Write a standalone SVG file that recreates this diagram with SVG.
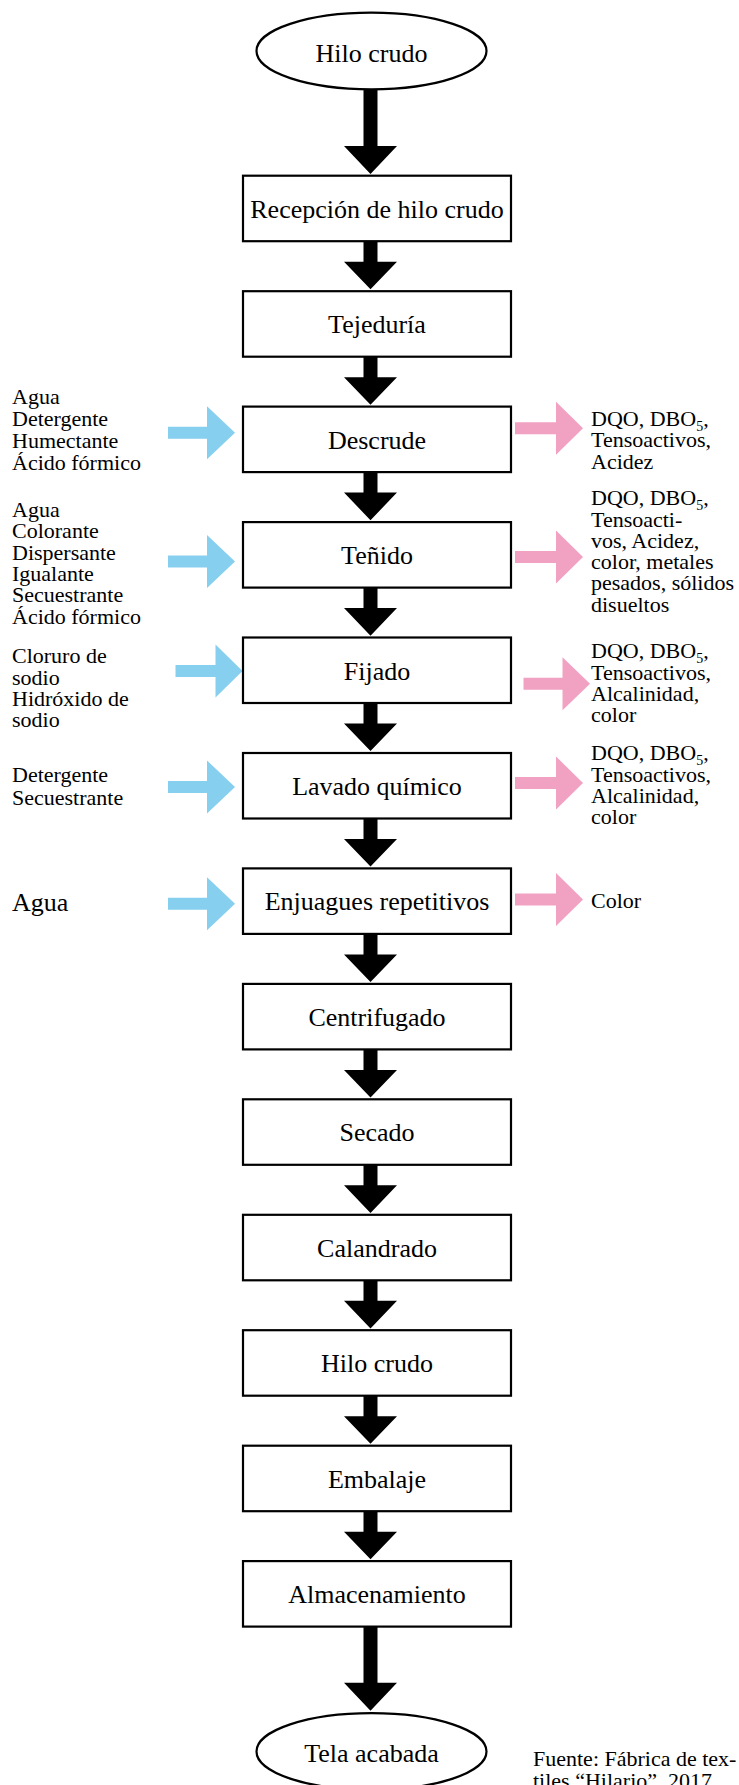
<svg xmlns="http://www.w3.org/2000/svg" width="739" height="1785" viewBox="0 0 739 1785">
<style>
  .box { fill: #ffffff; stroke: #000000; stroke-width: 2.2; }
  .ell { fill: #ffffff; stroke: #000000; stroke-width: 2.2; }
  .main { font-family: "Liberation Serif", "Times New Roman", serif; font-size: 26px; fill: #000000; text-anchor: middle; }
  .side { font-family: "Liberation Serif", "Times New Roman", serif; font-size: 22px; fill: #000000; }
  .sub { font-size: 14px; }
  .flow { fill: #000000; }
  .inp { fill: #87CFEF; }
  .out { fill: #F1A1C1; }
</style>
<rect x="0" y="0" width="739" height="1785" fill="#ffffff"/>

<g id="connectors">
  <path class="flow" d="M363.5 89 H377.5 V146 H397 L370.5 174 L344 146 H363.5 Z"/>
  <path class="flow" d="M363.5 241.2 H377.5 V261.7 H397 L370.5 289.3 L344 261.7 H363.5 Z"/>
  <path class="flow" d="M363.5 356.7 H377.5 V377.2 H397 L370.5 404.8 L344 377.2 H363.5 Z"/>
  <path class="flow" d="M363.5 472.1 H377.5 V492.6 H397 L370.5 520.2 L344 492.6 H363.5 Z"/>
  <path class="flow" d="M363.5 587.6 H377.5 V608.1 H397 L370.5 635.7 L344 608.1 H363.5 Z"/>
  <path class="flow" d="M363.5 703 H377.5 V723.5 H397 L370.5 751.1 L344 723.5 H363.5 Z"/>
  <path class="flow" d="M363.5 818.5 H377.5 V839 H397 L370.5 866.6 L344 839 H363.5 Z"/>
  <path class="flow" d="M363.5 933.9 H377.5 V954.4 H397 L370.5 982 L344 954.4 H363.5 Z"/>
  <path class="flow" d="M363.5 1049.4 H377.5 V1069.9 H397 L370.5 1097.5 L344 1069.9 H363.5 Z"/>
  <path class="flow" d="M363.5 1164.8 H377.5 V1185.3 H397 L370.5 1212.9 L344 1185.3 H363.5 Z"/>
  <path class="flow" d="M363.5 1280.3 H377.5 V1300.8 H397 L370.5 1328.4 L344 1300.8 H363.5 Z"/>
  <path class="flow" d="M363.5 1395.7 H377.5 V1416.2 H397 L370.5 1443.8 L344 1416.2 H363.5 Z"/>
  <path class="flow" d="M363.5 1511.2 H377.5 V1531.7 H397 L370.5 1559.3 L344 1531.7 H363.5 Z"/>
  <path class="flow" d="M363.5 1626.6 H377.5 V1682.7 H397 L370.5 1710.7 L344 1682.7 H363.5 Z"/>

  <!-- inputs (blue) -->
  <path class="inp" d="M168 426.7 H207 V406.2 L235 432.7 L207 459.2 V438.7 H168 Z"/>
  <path class="inp" d="M168 555.5 H207 V535 L235 561.5 L207 588 V567.5 H168 Z"/>
  <path class="inp" d="M175.5 665 H215.5 V644.5 L242.5 671 L215.5 697.5 V677 H175.5 Z"/>
  <path class="inp" d="M168 781 H207 V760.5 L235 787 L207 813.5 V793 H168 Z"/>
  <path class="inp" d="M168 897.7 H207 V877.2 L235 903.7 L207 930.2 V909.7 H168 Z"/>

  <!-- outputs (pink) -->
  <path class="out" d="M515 422.3 H556 V401.8 L583 428.3 L556 454.8 V434.3 H515 Z"/>
  <path class="out" d="M515 551 H556 V530.5 L583 557 L556 583.5 V563 H515 Z"/>
  <path class="out" d="M523.5 677.7 H562.5 V657.2 L590 683.7 L562.5 710.2 V689.7 H523.5 Z"/>
  <path class="out" d="M515 777 H556 V756.5 L583 783 L556 809.5 V789 H515 Z"/>
  <path class="out" d="M515 893.5 H556 V873 L583 899.5 L556 926 V905.5 H515 Z"/>
</g>

<g id="n-hilo-crudo-inicio">
  <ellipse class="ell" cx="371.5" cy="51" rx="115" ry="38.3"/>
  <text class="main" x="371.5" y="62">Hilo crudo</text>
</g>
<g id="n-recepcion">
  <rect class="box" x="243" y="175.7" width="268" height="65.5"/>
  <text class="main" x="377" y="217.7">Recepción de hilo crudo</text>
</g>
<g id="n-tejeduria">
  <rect class="box" x="243" y="291.2" width="268" height="65.5"/>
  <text class="main" x="377" y="333.2">Tejeduría</text>
</g>
<g id="n-descrude">
  <rect class="box" x="243" y="406.6" width="268" height="65.5"/>
  <text class="main" x="377" y="448.6">Descrude</text>
</g>
<g id="n-tenido">
  <rect class="box" x="243" y="522.1" width="268" height="65.5"/>
  <text class="main" x="377" y="564.1">Teñido</text>
</g>
<g id="n-fijado">
  <rect class="box" x="243" y="637.5" width="268" height="65.5"/>
  <text class="main" x="377" y="679.5">Fijado</text>
</g>
<g id="n-lavado">
  <rect class="box" x="243" y="753" width="268" height="65.5"/>
  <text class="main" x="377" y="795">Lavado químico</text>
</g>
<g id="n-enjuagues">
  <rect class="box" x="243" y="868.4" width="268" height="65.5"/>
  <text class="main" x="377" y="910.4">Enjuagues repetitivos</text>
</g>
<g id="n-centrifugado">
  <rect class="box" x="243" y="983.9" width="268" height="65.5"/>
  <text class="main" x="377" y="1025.9">Centrifugado</text>
</g>
<g id="n-secado">
  <rect class="box" x="243" y="1099.3" width="268" height="65.5"/>
  <text class="main" x="377" y="1141.3">Secado</text>
</g>
<g id="n-calandrado">
  <rect class="box" x="243" y="1214.8" width="268" height="65.5"/>
  <text class="main" x="377" y="1256.8">Calandrado</text>
</g>
<g id="n-hilo-crudo">
  <rect class="box" x="243" y="1330.2" width="268" height="65.5"/>
  <text class="main" x="377" y="1372.2">Hilo crudo</text>
</g>
<g id="n-embalaje">
  <rect class="box" x="243" y="1445.7" width="268" height="65.5"/>
  <text class="main" x="377" y="1487.7">Embalaje</text>
</g>
<g id="n-almacenamiento">
  <rect class="box" x="243" y="1561.1" width="268" height="65.5"/>
  <text class="main" x="377" y="1603.1">Almacenamiento</text>
</g>
<g id="n-tela-acabada">
  <ellipse class="ell" cx="371.5" cy="1751.5" rx="115" ry="38.3"/>
  <text class="main" x="371.5" y="1762">Tela acabada</text>
</g>

<g id="in-descrude">
  <text class="side"><tspan x="12" y="404">Agua</tspan><tspan x="12" y="426">Detergente</tspan><tspan x="12" y="448">Humectante</tspan><tspan x="12" y="469.5">Ácido fórmico</tspan></text>
</g>
<g id="in-tenido">
  <text class="side"><tspan x="12" y="516.7">Agua</tspan><tspan x="12" y="538.2">Colorante</tspan><tspan x="12" y="559.5">Dispersante</tspan><tspan x="12" y="580.8">Igualante</tspan><tspan x="12" y="602.2">Secuestrante</tspan><tspan x="12" y="623.5">Ácido fórmico</tspan></text>
</g>
<g id="in-fijado">
  <text class="side"><tspan x="12" y="663.3">Cloruro de</tspan><tspan x="12" y="684.5">sodio</tspan><tspan x="12" y="705.5">Hidróxido de</tspan><tspan x="12" y="726.7">sodio</tspan></text>
</g>
<g id="in-lavado">
  <text class="side"><tspan x="12" y="782">Detergente</tspan><tspan x="12" y="804.5">Secuestrante</tspan></text>
</g>
<g id="in-enjuagues">
  <text class="side" x="12" y="910.7" style="font-size:26px">Agua</text>
</g>

<g id="out-descrude">
  <text class="side"><tspan x="591" y="426">DQO, DBO<tspan class="sub" dy="5">5</tspan><tspan dy="-5">,</tspan></tspan><tspan x="591" y="447.3">Tensoactivos,</tspan><tspan x="591" y="468.5">Acidez</tspan></text>
</g>
<g id="out-tenido">
  <text class="side"><tspan x="591" y="505">DQO, DBO<tspan class="sub" dy="5">5</tspan><tspan dy="-5">,</tspan></tspan><tspan x="591" y="526.5">Tensoacti-</tspan><tspan x="591" y="547.8">vos, Acidez,</tspan><tspan x="591" y="569.2">color, metales</tspan><tspan x="591" y="590.4">pesados, sólidos</tspan><tspan x="591" y="611.7">disueltos</tspan></text>
</g>
<g id="out-fijado">
  <text class="side"><tspan x="591" y="658.3">DQO, DBO<tspan class="sub" dy="5">5</tspan><tspan dy="-5">,</tspan></tspan><tspan x="591" y="679.8">Tensoactivos,</tspan><tspan x="591" y="701">Alcalinidad,</tspan><tspan x="591" y="722">color</tspan></text>
</g>
<g id="out-lavado">
  <text class="side"><tspan x="591" y="760">DQO, DBO<tspan class="sub" dy="5">5</tspan><tspan dy="-5">,</tspan></tspan><tspan x="591" y="781.5">Tensoactivos,</tspan><tspan x="591" y="803">Alcalinidad,</tspan><tspan x="591" y="824.3">color</tspan></text>
</g>
<g id="out-enjuagues">
  <text class="side" x="591" y="907.7">Color</text>
</g>

<g id="fuente">
  <text class="side"><tspan x="533" y="1765.7">Fuente: Fábrica de tex-</tspan><tspan x="533" y="1787.5">tiles “Hilario”, 2017.</tspan></text>
</g>
</svg>
